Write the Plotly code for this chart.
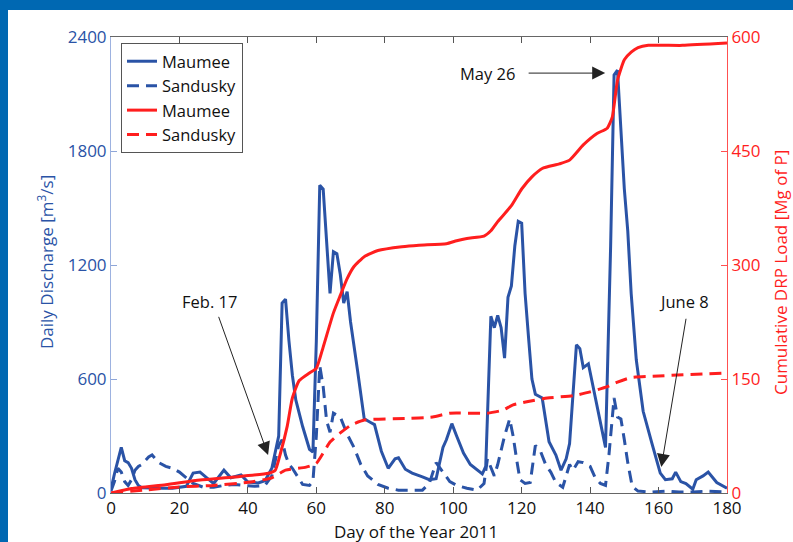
import plotly.graph_objects as go

# ---------------- data ----------------
maumee_q_day = [0, 1, 3, 4, 5, 6, 7, 8, 9, 12, 15, 18, 21, 22, 24, 26, 28, 30, 33, 35, 38, 40, 43, 45, 47,
                49, 50, 51, 52, 53, 54, 56, 58, 59, 60, 61, 62, 63, 64, 65, 66, 67, 68, 69, 70, 72, 74, 76,
                77, 79, 81, 83, 84, 86, 88, 91, 93, 95, 96, 97, 98, 99.6, 101, 103, 105, 107, 108.5, 109.5,
                111, 112, 113, 114, 115, 116, 117, 118, 119, 120, 121, 122, 123, 124, 126, 128, 130, 131.5,
                133, 134, 135, 136, 137, 138, 139.5, 141, 143, 144.5, 146, 147, 148, 149, 150, 151, 152,
                153.5, 155.5, 158, 160.5, 162, 164, 165, 166.5, 168, 170, 171, 173, 174.5, 177, 180]
maumee_q = [20, 100, 240, 170, 160, 130, 70, 40, 28, 25, 25, 25, 30, 35, 105, 110, 80, 50, 120, 80, 95, 58, 53, 65, 130,
            300, 1000, 1020, 800, 620, 490, 350, 230, 215, 800, 1620, 1600, 1300, 1050, 1270, 1260, 1150, 1000, 1060, 900, 650, 390, 370,
            360, 220, 130, 180, 185, 125, 105, 85, 70, 75, 160, 240, 280, 365, 300, 210, 150, 120, 100, 140,
            930, 870, 935, 870, 710, 1030, 1090, 1300, 1430, 1420, 1050, 820, 600, 520, 500, 270, 200, 120,
            180, 260, 500, 780, 760, 660, 680, 550, 380, 240, 1300, 2200, 2225, 1900, 1600, 1380, 1050,
            700, 430, 265, 105, 70, 75, 110, 60, 50, 20, 70, 90, 110, 55, 25]

sandusky_q_day = [0, 1, 2, 3, 4, 5, 6, 7, 8, 9, 10, 11, 12, 13, 14, 16, 18, 20, 22, 24, 27, 30, 33, 36, 39, 42, 45,
                  47, 49, 50, 51, 52, 53, 54, 56, 58, 59, 60, 61, 62, 63, 64, 65, 67, 69, 71, 73, 75, 78, 81, 84,
                  88, 91, 93, 95, 97, 99, 101, 104, 107, 109, 110, 111, 112, 113, 115, 116.5, 117.5, 118.5, 119.5,
                  121, 122.5, 124, 125.5, 127, 128.5, 130, 132, 134, 135, 136.5, 138, 140, 141.5, 143, 144.5,
                  145.5, 147, 148, 149, 150, 151, 152.3, 154, 158, 162, 166, 170, 174, 178, 180]
sandusky_q = [10, 60, 130, 110, 60, 40, 70, 120, 140, 150, 170, 190, 200, 180, 160, 140, 130, 110, 80, 50, 30, 30, 40, 45, 40, 35, 40,
              90, 250, 280, 200, 150, 130, 100, 45, 40, 60, 300, 670, 560, 380, 320, 420, 400, 310, 240, 150, 90, 45, 25, 15,
              15, 15, 50, 160, 110, 60, 40, 25, 15, 50, 180, 130, 90, 150, 300, 390, 300, 180, 70,
              50, 55, 250, 220, 150, 110, 55, 30, 150, 120, 165, 160, 140, 80, 50, 40,
              200, 500, 400, 390, 280, 160, 35, 10, 5, 10, 5, 5, 10, 5, 5]

maumee_load_day = [0, 6, 16, 26, 36, 46, 48, 49.5, 51.5, 53, 55, 58, 60, 62, 65, 67, 69, 71, 74, 78, 85, 90, 98,
                   101, 104, 109, 111, 113, 117, 120, 123, 126, 131, 134, 138, 142, 145, 146.5, 148, 150, 152,
                   154, 157, 167, 180]
maumee_load = [0, 6, 11, 17, 21, 26, 30, 52, 88, 125, 148, 158, 164, 192, 237, 260, 282, 298, 311, 319, 324, 326, 328,
               332, 335, 338, 345, 357, 378, 400, 416, 427, 433, 438, 458, 473, 480, 495, 543, 570, 580,
               586, 589, 589, 592]

sandusky_load_day = [0, 10, 20, 30, 40, 47, 51, 57, 60, 64, 67, 70, 74, 86, 94, 99, 110, 114.5, 117.5, 121.5,
                     127.5, 135, 140, 145, 148, 152, 160, 180]
sandusky_load = [0, 4, 8, 10, 14, 20, 30, 34, 39, 67, 79, 89, 96, 98, 100, 105, 105, 109, 116, 120,
                 125, 128, 133, 140, 146, 152, 154, 158]

x_ticks = [0, 20, 40, 60, 80, 100, 120, 140, 160, 180]
q_ticks = [0, 600, 1200, 1800, 2400]
load_ticks = [0, 150, 300, 450, 600]

BLUE = "#2A53A6"
RED = "#FF1E1E"
FONT = "Open Sans"
TICK_SIZE = 17

fig = go.Figure()
fig.add_trace(go.Scatter(x=maumee_q_day, y=maumee_q, name="Maumee", mode="lines",
                         line=dict(color=BLUE, width=3)))
fig.add_trace(go.Scatter(x=sandusky_q_day, y=sandusky_q, name="Sandusky", mode="lines",
                         line=dict(color=BLUE, width=3, dash="12px,7px")))
fig.add_trace(go.Scatter(x=maumee_load_day, y=maumee_load, name="Maumee", mode="lines", yaxis="y2",
                         line=dict(color=RED, width=3, shape="spline", smoothing=0.5)))
fig.add_trace(go.Scatter(x=sandusky_load_day, y=sandusky_load, name="Sandusky", mode="lines", yaxis="y2",
                         line=dict(color=RED, width=3, dash="12px,7px", shape="spline", smoothing=0.5)))

W, H = 793, 542
ML, MR, MT, MB = 111, 66, 37, 49
PW, PH = W - ML - MR, H - MT - MB


def px(xp):
    return (xp - ML) / PW


def py(yp):
    return (H - MB - yp) / PH


fig.add_shape(type="rect", xref="paper", yref="paper", x0=px(8), x1=px(800), y0=py(560), y1=py(10),
              fillcolor="white", line=dict(width=0), layer="below")

ann_font = dict(family=FONT, size=16.5, color="#111")
arrows = [
    dict(x=144.4, y=2210, ax=121.6, ay=2210),
    dict(x=45.9, y=200, ax=31.3, ay=935),
    dict(x=160.8, y=137, ax=168.1, ay=925),
]
for a in arrows:
    fig.add_annotation(x=a["x"], y=a["y"], ax=a["ax"], ay=a["ay"], xref="x", yref="y", axref="x", ayref="y",
                       text="", showarrow=True, arrowhead=2, arrowsize=2.6, arrowwidth=1, arrowcolor="#222")
fig.add_annotation(x=110.0, y=2210, xref="x", yref="y", text="May 26", showarrow=False, font=ann_font)
fig.add_annotation(x=28.9, y=1010, xref="x", yref="y", text="Feb. 17", showarrow=False, font=ann_font)
fig.add_annotation(x=167.3, y=1010, xref="x", yref="y", text="June 8", showarrow=False, font=ann_font)

# axis titles placed explicitly
title_common = dict(xref="paper", yref="paper", showarrow=False, xanchor="center", yanchor="middle")
fig.add_annotation(x=px(416), y=py(531), text="Day of the Year 2011",
                   font=dict(family=FONT, size=17, color="#111"), **title_common)
fig.add_annotation(x=px(45), y=py(262), text="Daily Discharge [m<sup>3</sup>/s]", textangle=-90,
                   font=dict(family=FONT, size=17, color=BLUE), **title_common)
fig.add_annotation(x=px(780), y=py(273), text="Cumulative DRP Load [Mg of P]", textangle=-90,
                   font=dict(family=FONT, size=17, color=RED), **title_common)

fig.update_layout(
    width=W, height=H,
    margin=dict(l=ML, r=MR, t=MT, b=MB, pad=0),
    paper_bgcolor="#0068B2",
    plot_bgcolor="white",
    font=dict(family=FONT, size=TICK_SIZE, color="#111"),
    showlegend=True,
    legend=dict(x=px(121), y=py(43), xanchor="left", yanchor="top", bgcolor="white",
                bordercolor="#555", borderwidth=1, font=dict(family=FONT, size=16.5, color="#111"),
                tracegroupgap=0),
    xaxis=dict(range=[0, 180], tickvals=x_ticks, ticktext=[str(v) for v in x_ticks],
               ticks="inside", ticklen=6, tickcolor="#555", showline=True, linecolor="#666", linewidth=1,
               mirror="ticks", showgrid=False, zeroline=False, automargin=False,
               tickfont=dict(family=FONT, size=TICK_SIZE, color="#111")),
    yaxis=dict(range=[0, 2400], tickvals=q_ticks, ticktext=[str(v) for v in q_ticks],
               ticks="inside", ticklen=6, tickcolor="#8FA6D8", showline=True, linecolor="#9DB2E0", linewidth=1,
               showgrid=False, zeroline=False, automargin=False,
               tickfont=dict(family=FONT, size=TICK_SIZE, color=BLUE)),
    yaxis2=dict(range=[0, 600], tickvals=load_ticks, ticktext=[str(v) for v in load_ticks],
                overlaying="y", side="right", anchor="x",
                ticks="inside", ticklen=6, tickcolor="#FF5050", showline=True, linecolor="#FF5050", linewidth=1,
                showgrid=False, zeroline=False, automargin=False,
                tickfont=dict(family=FONT, size=TICK_SIZE, color=RED)),
)

fig.write_html("out.html", config={"displayModeBar": False},
               post_script="document.body.style.margin='0px';")
